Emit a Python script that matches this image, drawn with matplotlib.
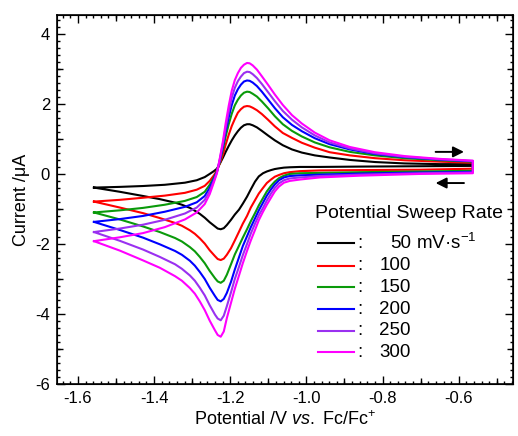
import matplotlib
matplotlib.use("Agg")
import matplotlib.pyplot as plt
from matplotlib.ticker import MultipleLocator, FixedLocator, NullFormatter

plt.rcParams['font.family'] = ['Liberation Sans', 'DejaVu Sans']
plt.rcParams['mathtext.fontset'] = 'custom'
plt.rcParams['mathtext.rm'] = 'Liberation Sans'
plt.rcParams['mathtext.it'] = 'Liberation Sans:italic'
plt.rcParams['axes.unicode_minus'] = False

# potential sweep rates (mV/s) and colours
sweep_rates = [50, 100, 150, 200, 250, 300]
colors = ['#000000', '#ff0000', '#0a9a0a', '#0000ff', '#9a30f0', '#ff00ff']

# forward (anodic) sweep, V vs Fc/Fc+
E_fwd = [-1.558, -1.490, -1.429, -1.372, -1.319, -1.288, -1.267, -1.254, -1.243, -1.235,
         -1.227, -1.219, -1.212, -1.204, -1.196, -1.188, -1.180, -1.172, -1.164, -1.156,
         -1.149, -1.141, -1.130, -1.117, -1.101, -1.083, -1.062, -1.038, -1.012, -0.978,
         -0.939, -0.886, -0.820, -0.742, -0.650, -0.563]
# reverse (cathodic) sweep
E_rev = [-0.563, -0.702, -0.860, -0.965, -1.017, -1.044, -1.059, -1.072, -1.083, -1.093,
         -1.104, -1.114, -1.125, -1.135, -1.146, -1.156, -1.167, -1.177, -1.188, -1.198,
         -1.209, -1.217, -1.225, -1.233, -1.240, -1.254, -1.267, -1.280, -1.293, -1.306,
         -1.327, -1.345, -1.385, -1.429, -1.490, -1.558]

# currents, uA
I_fwd_50 = [-0.39, -0.37, -0.345, -0.31, -0.25, -0.18, -0.09, 0.00, 0.08, 0.15,
            0.30, 0.47, 0.63, 0.80, 0.96, 1.10, 1.22, 1.32, 1.39, 1.42,
            1.42, 1.39, 1.33, 1.23, 1.10, 0.96, 0.82, 0.70, 0.61, 0.53,
            0.47, 0.40, 0.34, 0.30, 0.28, 0.28]
I_rev_50 = [0.23, 0.22, 0.21, 0.20, 0.20, 0.19, 0.18, 0.16, 0.14, 0.11,
            0.07, 0.02, -0.07, -0.22, -0.44, -0.65, -0.85, -1.02, -1.16, -1.31,
            -1.46, -1.55, -1.58, -1.56, -1.50, -1.38, -1.25, -1.14, -1.05, -0.97,
            -0.88, -0.82, -0.72, -0.63, -0.51, -0.39]

I_fwd_100 = [-0.79, -0.74, -0.68, -0.62, -0.54, -0.45, -0.34, -0.20, -0.04, 0.10,
             0.31, 0.56, 0.84, 1.12, 1.37, 1.57, 1.75, 1.85, 1.92, 1.94,
             1.93, 1.89, 1.82, 1.71, 1.55, 1.36, 1.17, 1.03, 0.89, 0.75,
             0.62, 0.53, 0.45, 0.39, 0.35, 0.32]
I_rev_100 = [0.15, 0.12, 0.11, 0.10, 0.08, 0.05, 0.02, -0.03, -0.08, -0.16,
             -0.26, -0.40, -0.56, -0.75, -0.96, -1.20, -1.42, -1.65, -1.90, -2.12,
             -2.31, -2.42, -2.46, -2.43, -2.35, -2.18, -1.99, -1.84, -1.71, -1.61,
             -1.48, -1.40, -1.26, -1.12, -0.96, -0.79]

I_fwd_150 = [-1.10, -1.04, -0.97, -0.88, -0.77, -0.66, -0.51, -0.31, -0.10, 0.08,
             0.35, 0.72, 1.07, 1.42, 1.72, 1.96, 2.12, 2.24, 2.32, 2.35,
             2.34, 2.29, 2.21, 2.07, 1.88, 1.65, 1.42, 1.23, 1.07, 0.90,
             0.76, 0.63, 0.53, 0.45, 0.39, 0.35]
I_rev_150 = [0.09, 0.07, 0.05, 0.03, 0.02, 0.00, -0.05, -0.12, -0.22, -0.34,
             -0.50, -0.69, -0.90, -1.12, -1.35, -1.58, -1.82, -2.05, -2.30, -2.58,
             -2.88, -3.05, -3.11, -3.07, -2.98, -2.77, -2.55, -2.37, -2.21, -2.09,
             -1.93, -1.83, -1.66, -1.50, -1.30, -1.10]

I_fwd_200 = [-1.37, -1.29, -1.20, -1.08, -0.94, -0.81, -0.63, -0.40, -0.14, 0.06,
             0.40, 0.80, 1.22, 1.62, 1.97, 2.24, 2.42, 2.55, 2.64, 2.67,
             2.66, 2.61, 2.51, 2.35, 2.13, 1.88, 1.62, 1.40, 1.22, 1.02,
             0.85, 0.70, 0.57, 0.48, 0.41, 0.36]
I_rev_200 = [0.06, 0.04, 0.01, -0.02, -0.04, -0.06, -0.10, -0.18, -0.30, -0.44,
             -0.62, -0.82, -1.04, -1.27, -1.52, -1.78, -2.06, -2.38, -2.73, -3.08,
             -3.40, -3.57, -3.64, -3.60, -3.49, -3.25, -3.00, -2.80, -2.62, -2.48,
             -2.31, -2.20, -2.01, -1.82, -1.60, -1.37]

I_fwd_250 = [-1.66, -1.56, -1.45, -1.31, -1.13, -0.96, -0.74, -0.49, -0.19, 0.04,
             0.44, 0.88, 1.33, 1.78, 2.18, 2.46, 2.65, 2.78, 2.88, 2.92,
             2.91, 2.85, 2.74, 2.57, 2.34, 2.08, 1.80, 1.55, 1.33, 1.10,
             0.90, 0.73, 0.59, 0.49, 0.42, 0.37]
I_rev_250 = [0.04, 0.02, -0.02, -0.06, -0.10, -0.13, -0.18, -0.27, -0.40, -0.56,
             -0.76, -0.97, -1.18, -1.42, -1.70, -2.00, -2.32, -2.65, -3.00, -3.38,
             -3.78, -4.05, -4.18, -4.13, -4.02, -3.75, -3.47, -3.25, -3.05, -2.90,
             -2.71, -2.58, -2.37, -2.16, -1.91, -1.66]

I_fwd_300 = [-1.92, -1.81, -1.69, -1.52, -1.30, -1.10, -0.86, -0.58, -0.24, 0.02,
             0.47, 0.95, 1.45, 1.95, 2.38, 2.68, 2.88, 3.03, 3.12, 3.17,
             3.16, 3.10, 2.98, 2.79, 2.55, 2.27, 1.97, 1.68, 1.44, 1.18,
             0.96, 0.77, 0.62, 0.51, 0.43, 0.38]
I_rev_300 = [0.02, 0.00, -0.05, -0.10, -0.16, -0.20, -0.25, -0.36, -0.50, -0.68,
             -0.88, -1.08, -1.32, -1.60, -1.90, -2.20, -2.55, -2.90, -3.28, -3.68,
             -4.12, -4.50, -4.65, -4.60, -4.47, -4.19, -3.89, -3.64, -3.42, -3.26,
             -3.05, -2.92, -2.68, -2.47, -2.19, -1.92]

I_fwd = [I_fwd_50, I_fwd_100, I_fwd_150, I_fwd_200, I_fwd_250, I_fwd_300]
I_rev = [I_rev_50, I_rev_100, I_rev_150, I_rev_200, I_rev_250, I_rev_300]

fig = plt.figure(figsize=(5.18, 4.36), dpi=100)
ax = fig.add_axes([0.110, 0.1193, 0.880, 0.8463])

for i in range(len(sweep_rates)):
    ax.plot(E_fwd + E_rev, I_fwd[i] + I_rev[i], color=colors[i], lw=1.5)

ax.set_xlim(-1.655, -0.458)
ax.set_ylim(-6, 4.54)

ax.xaxis.set_major_locator(FixedLocator([-1.6, -1.4, -1.2, -1.0, -0.8, -0.6]))
ax.xaxis.set_minor_locator(MultipleLocator(0.02))
ax.yaxis.set_major_locator(MultipleLocator(2))
ax.yaxis.set_minor_locator(MultipleLocator(0.2))
ax.tick_params(which='both', direction='in', top=True, right=True, width=1.0)
ax.tick_params(which='major', length=5.5, labelsize=12, pad=5)
ax.tick_params(which='minor', length=2.3)
for s in ax.spines.values():
    s.set_linewidth(1.2)

# medium-length ticks at the unlabelled tenths / odd integers
for side in ['bottom', 'top']:
    sx = ax.secondary_xaxis(side)
    sx.xaxis.set_major_locator(FixedLocator([-1.5, -1.3, -1.1, -0.9, -0.7, -0.5]))
    sx.xaxis.set_major_formatter(NullFormatter())
    sx.tick_params(direction='in', length=4, width=1.0)
for side in ['left', 'right']:
    sy = ax.secondary_yaxis(side)
    sy.yaxis.set_major_locator(FixedLocator([-5, -3, -1, 1, 3]))
    sy.yaxis.set_major_formatter(NullFormatter())
    sy.tick_params(direction='in', length=4, width=1.0)

ax.set_xlabel("Potential /V $\\mathit{vs.}$ Fc/Fc$^{+}$", fontsize=13, labelpad=3)
ax.set_ylabel("Current /\u03bcA", fontsize=13, labelpad=4)

# sweep direction arrows
ax.annotate('', xy=(-0.579, 0.63), xytext=(-0.668, 0.63),
            arrowprops=dict(arrowstyle='-|>', color='black', lw=1.4, mutation_scale=16))
ax.annotate('', xy=(-0.668, -0.26), xytext=(-0.579, -0.26),
            arrowprops=dict(arrowstyle='-|>', color='black', lw=1.4, mutation_scale=16))

# legend drawn by hand
ax.text(0.567, 0.463, "Potential Sweep Rate", transform=ax.transAxes,
        fontsize=14, va='center', ha='left')
row_y = [0.381, 0.320, 0.262, 0.203, 0.144, 0.086]
for i in range(len(sweep_rates)):
    ax.plot([0.5724, 0.6513], [row_y[i], row_y[i]], color=colors[i], lw=1.5,
            transform=ax.transAxes)
    ax.text(0.6645, row_y[i], ":", transform=ax.transAxes, fontsize=13.5,
            va='center', ha='center')
    ax.text(0.776, row_y[i], str(sweep_rates[i]), transform=ax.transAxes,
            fontsize=13.5, va='center', ha='right')
ax.text(0.776, row_y[0], " mV\u00b7s$^{-1}$", transform=ax.transAxes,
        fontsize=13.5, va='center', ha='left')

fig.savefig("out.png", dpi=100)
